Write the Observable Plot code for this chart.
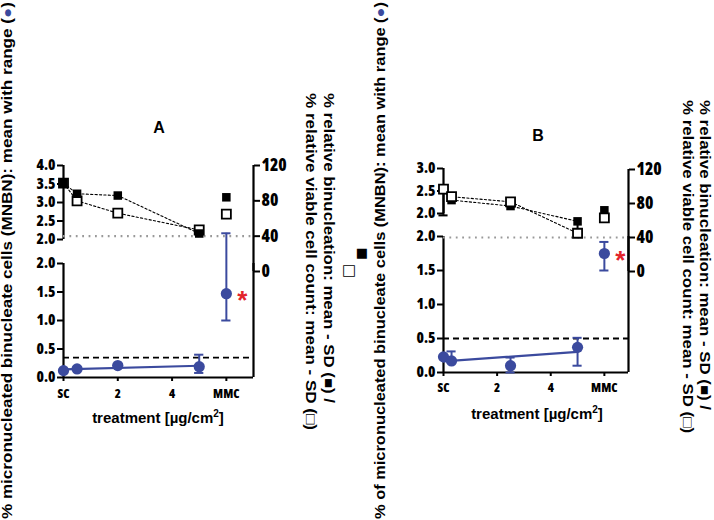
<!DOCTYPE html>
<html>
<head>
<meta charset="utf-8">
<script src="https://cdn.jsdelivr.net/npm/d3@7"></script>
<script src="https://cdn.jsdelivr.net/npm/@observablehq/plot@0.6"></script>
<style>
  html, body { margin: 0; padding: 0; background: #fff; }
  #root { position: relative; width: 714px; height: 520px; overflow: hidden; background: #fff; }
  #root svg { position: absolute; top: 0; }
</style>
</head>
<body>
<div id="root"></div>
<script>
// ---------- shared tick labels ----------
const xTickValues = [0, 2, 4, 6];
const xTickLabels = ["SC", "2", "4", "MMC"];
const lowerTicks = [0, 0.5, 1, 1.5, 2];
const upperTicksA = [2, 2.5, 3, 3.5, 4];
const upperTicksB = [2, 2.5, 3];
const rightTicks = [0, 40, 80, 120];

// ---------- panel A data ----------
const mnbnDosesA = [0, 0.5, 2, 5];
const mnbnMeanA = [0.12, 0.15, 0.21, 0.19];
const mnbnLowA  = [0.12, 0.15, 0.21, 0.08];
const mnbnHighA = [0.12, 0.15, 0.21, 0.40];
const mmcMnbnA = [1.47, 1.0, 2.53]; // mean, low, high
const thresholdA = 0.35;
const upperDosesA = [0, 0.5, 2, 5, 6];
const binucA  = [100, 88, 86, 43, 84];
const viableA = [100, 80, 66, 47, 65];
const binucSdLowA  = [null, null, null, null, null];
const viableSdLowA = [null, null, null, null, null];

// ---------- panel B data ----------
const mnbnDosesB = [0, 0.3, 2.5, 5];
const mnbnMeanB = [0.23, 0.17, 0.10, 0.37];
const mnbnLowB  = [0.23, 0.15, 0.00, 0.10];
const mnbnHighB = [0.23, 0.31, 0.22, 0.51];
const mmcMnbnB = [1.75, 1.5, 1.92];
const thresholdB = 0.5;
const upperDosesB = [0, 0.3, 2.5, 5, 6];
const binucB  = [96, 84, 77, 59, 72];
const viableB = [97, 88, 82, 45, 63];
const binucSdLowB  = [null, null, null, 48, null];
const viableSdLowB = [66, null, null, null, null];

// ---------- style ----------
const BLUE = "#3b4a9e";
const RED = "#e3242b";
const COND = "'Open Sans','Liberation Sans',Arial,sans-serif";
const SANS = "'Liberation Sans',Arial,sans-serif";
const W = 357, H = 520;
const LEFT_TICK_SIZE = 15, RIGHT_TICK_SIZE = 17, X_TICK_SIZE = 12.5;

function baseStyle(size) {
  return {background: "transparent", overflow: "visible", fontFamily: COND, fontWeight: "800", fontStretch: "condensed", fontSize: size + "px", color: "black"};
}

function panel(p) {
  const mL = p.axisLeft - p.left, mR = p.left + W - p.axisRight;
  const xMax = p.xDomain[1];
  const rows = p.mnbnDoses.map((d, i) => ({dose: d, m: p.mnbnMean[i], lo: p.mnbnLow[i], hi: p.mnbnHigh[i]}));
  const mmc = [{dose: p.mmcX, m: p.mmcMnbn[0], lo: p.mmcMnbn[1], hi: p.mmcMnbn[2]}];
  const bars = rows.concat(mmc);
  const capW = 0.17;

  const lower = Plot.plot({
    width: W, height: H,
    marginTop: p.lowTop, marginBottom: H - p.lowBottom, marginLeft: mL, marginRight: mR,
    x: {domain: p.xDomain, label: null},
    y: {domain: [0, 2], label: null},
    style: baseStyle(LEFT_TICK_SIZE),
    marks: [
      Plot.ruleY([p.threshold], {stroke: "black", strokeWidth: 1.8, strokeDasharray: "6,4"}),
      Plot.ruleX([0], {stroke: "black", strokeWidth: 2.2}),
      Plot.ruleY([0], {stroke: "black", strokeWidth: 2.2}),
      Plot.ruleX([xMax], {stroke: "black", strokeWidth: 2.2}),
      Plot.axisY({ticks: lowerTicks, tickFormat: d3.format(".1f"), tickSize: 6, tickPadding: 2, fontSize: LEFT_TICK_SIZE, strokeWidth: 2, label: null}),
      Plot.axisX({ticks: xTickValues, tickFormat: d => xTickLabels[xTickValues.indexOf(d)], tickSize: 4, tickPadding: p.xTickPad, fontSize: X_TICK_SIZE, strokeWidth: 2, label: null}),
      Plot.linearRegressionY(rows, {x: "dose", y: "m", stroke: BLUE, strokeWidth: 2.2, ci: 0}),
      Plot.ruleX(bars, {x: "dose", y1: "lo", y2: "hi", stroke: BLUE, strokeWidth: 2}),
      Plot.ruleY(bars, {y: "lo", x1: d => d.dose - capW, x2: d => d.dose + capW, stroke: BLUE, strokeWidth: 2}),
      Plot.ruleY(bars, {y: "hi", x1: d => d.dose - capW, x2: d => d.dose + capW, stroke: BLUE, strokeWidth: 2}),
      Plot.dot(bars, {x: "dose", y: "m", r: 5.6, fill: BLUE, stroke: null}),
      Plot.text(mmc, {x: "dose", y: "m", text: () => "*", dx: 11, dy: 7, fill: RED, fontSize: 26, fontWeight: "bold", fontFamily: SANS, fontStretch: "normal", textAnchor: "start"})
    ]
  });

  const upperLeft = Plot.plot({
    width: W, height: H,
    marginTop: p.upTop, marginBottom: H - p.upBottom, marginLeft: mL, marginRight: mR,
    x: {domain: p.xDomain, axis: null, label: null},
    y: {domain: [p.upTicks[0], p.upTicks[p.upTicks.length - 1]], label: null},
    style: baseStyle(LEFT_TICK_SIZE),
    marks: [
      Plot.ruleX([0], {stroke: "black", strokeWidth: 2.2}),
      Plot.axisY({ticks: p.upTicks, tickFormat: d3.format(".1f"), tickSize: 6, tickPadding: 2, fontSize: LEFT_TICK_SIZE, strokeWidth: 2, label: null})
    ]
  });

  const up = upperDosesRows(p);
  const trend = up.filter(d => d.dose !== p.mmcX);
  const filled = Plot.dot(up, {x: "dose", y: "binuc", symbol: "square", r: 4.8, fill: "black", stroke: null});
  const open = Plot.dot(up, {x: "dose", y: "viable", symbol: "square", r: 5.1, fill: "white", stroke: "black", strokeWidth: 1.8});
  const sdB = up.filter(d => d.binucSd != null);
  const sdV = up.filter(d => d.viableSd != null);
  const right = Plot.plot({
    width: W, height: H,
    marginTop: p.rTop, marginBottom: H - p.rBottom, marginLeft: mL, marginRight: mR,
    x: {domain: p.xDomain, axis: null, label: null},
    y: {domain: [0, 120], label: null},
    style: baseStyle(RIGHT_TICK_SIZE),
    marks: [
      Plot.ruleY([40], {stroke: "#999999", strokeWidth: 2.2, strokeDasharray: "1.8,4.6"}),
      Plot.ruleX([xMax], {stroke: "black", strokeWidth: 2.2}),
      Plot.axisY({anchor: "right", ticks: rightTicks, tickSize: 6, tickPadding: 2, fontSize: RIGHT_TICK_SIZE, strokeWidth: 2, label: null}),
      Plot.line(trend, {x: "dose", y: "binuc", stroke: "black", strokeWidth: 1.1, strokeDasharray: "2.2,2.2"}),
      Plot.line(trend, {x: "dose", y: "viable", stroke: "black", strokeWidth: 1.1, strokeDasharray: "2.2,2.2"}),
      Plot.ruleX(sdB, {x: "dose", y1: "binuc", y2: "binucSd", stroke: "black", strokeWidth: 2}),
      Plot.ruleY(sdB, {y: "binucSd", x1: d => d.dose - capW, x2: d => d.dose + capW, stroke: "black", strokeWidth: 2}),
      Plot.ruleX(sdV, {x: "dose", y1: "viable", y2: "viableSd", stroke: "black", strokeWidth: 2}),
      Plot.ruleY(sdV, {y: "viableSd", x1: d => d.dose - capW, x2: d => d.dose + capW, stroke: "black", strokeWidth: 2}),
      ...(p.filledOnTop ? [open, filled] : [filled, open])
    ]
  });

  for (const s of [lower, upperLeft, right]) {
    s.style.left = p.left + "px";
    document.getElementById("root").appendChild(s);
  }
}

function upperDosesRows(p) {
  return p.upperDoses.map((d, i) => ({dose: d, binuc: p.binuc[i], viable: p.viable[i], binucSd: p.binucSd[i], viableSd: p.viableSd[i]}));
}

panel({
  left: 0, axisLeft: 63, axisRight: 253, xDomain: [0, 7], xTickPad: 8,
  lowTop: 263, lowBottom: 377, upTop: 165, upBottom: 239, upTicks: upperTicksA, rTop: 165, rBottom: 271,
  mnbnDoses: mnbnDosesA, mnbnMean: mnbnMeanA, mnbnLow: mnbnLowA, mnbnHigh: mnbnHighA,
  mmcX: 6, mmcMnbn: mmcMnbnA, threshold: thresholdA,
  upperDoses: upperDosesA, binuc: binucA, viable: viableA, binucSd: binucSdLowA, viableSd: viableSdLowA,
  filledOnTop: true
});
panel({
  left: W, axisLeft: 443, axisRight: 628, xDomain: [0, 6.9], xTickPad: 7,
  lowTop: 236, lowBottom: 372, upTop: 168, upBottom: 213, upTicks: upperTicksB, rTop: 169, rBottom: 271,
  mnbnDoses: mnbnDosesB, mnbnMean: mnbnMeanB, mnbnLow: mnbnLowB, mnbnHigh: mnbnHighB,
  mmcX: 6, mmcMnbn: mmcMnbnB, threshold: thresholdB,
  upperDoses: upperDosesB, binuc: binucB, viable: viableB, binucSd: binucSdLowB, viableSd: viableSdLowB,
  filledOnTop: false
});

// ---------- text overlay ----------
const svg = d3.create("svg").attr("width", 714).attr("height", 520)
  .style("left", "0px").style("overflow", "visible")
  .attr("font-family", SANS).attr("fill", "black");

function leftLabel(x, text, len) {
  const t = svg.append("text").attr("transform", `translate(${x},519) rotate(-90)`)
    .attr("font-size", 14).attr("font-weight", "bold").attr("fill", "black")
    .attr("textLength", len).attr("lengthAdjust", "spacingAndGlyphs");
  t.append("tspan").text(text);
  t.append("tspan").attr("fill", BLUE).text("●");
  t.append("tspan").text(")");
}
leftLabel(12, "% micronucleated binucleate cells (MNBN): mean with range (", 517);
leftLabel(385, "% of micronucleated binucleate cells (MNBN): mean with range (", 517);

function rightLabel(x, y, text, len) {
  svg.append("text").attr("transform", `translate(${x},${y}) rotate(90)`)
    .attr("font-size", 14).attr("font-weight", "bold").attr("fill", "black")
    .attr("textLength", len).attr("lengthAdjust", "spacingAndGlyphs")
    .text(text);
}
rightLabel(324, 93, "% relative binucleation: mean - SD (■) /", 310);
rightLabel(306, 93, "% relative viable cell count: mean - SD (□)", 337);
rightLabel(700, 100, "% relative binucleation: mean - SD (■) /", 310);
rightLabel(683, 100, "% relative viable cell count: mean - SD (□)", 333);

svg.append("text").attr("x", 362).attr("y", 252).attr("text-anchor", "middle").attr("dominant-baseline", "central")
  .attr("font-family", "'DejaVu Sans',sans-serif").attr("font-size", 13).attr("fill", "black").text("■");
svg.append("text").attr("x", 349).attr("y", 270).attr("text-anchor", "middle").attr("dominant-baseline", "central")
  .attr("font-family", "'DejaVu Sans',sans-serif").attr("font-size", 15).attr("fill", "black").text("□");

function title(x, y, t) {
  svg.append("text").attr("x", x).attr("y", y).attr("text-anchor", "middle").attr("dominant-baseline", "central")
    .attr("font-size", 16).attr("font-weight", "bold").attr("fill", "black").text(t);
}
title(159, 127, "A");
title(538, 135, "B");

function xTitle(x, y) {
  const t = svg.append("text").attr("x", x).attr("y", y).attr("text-anchor", "middle")
    .attr("font-size", 15).attr("font-weight", "bold").attr("fill", "black");
  t.append("tspan").text("treatment [µg/cm");
  t.append("tspan").attr("font-size", 10).attr("dy", -6).text("2");
  t.append("tspan").attr("dy", 6).text("]");
}
xTitle(158, 423);
xTitle(537, 419);

document.getElementById("root").appendChild(svg.node());
</script>
</body>
</html>
